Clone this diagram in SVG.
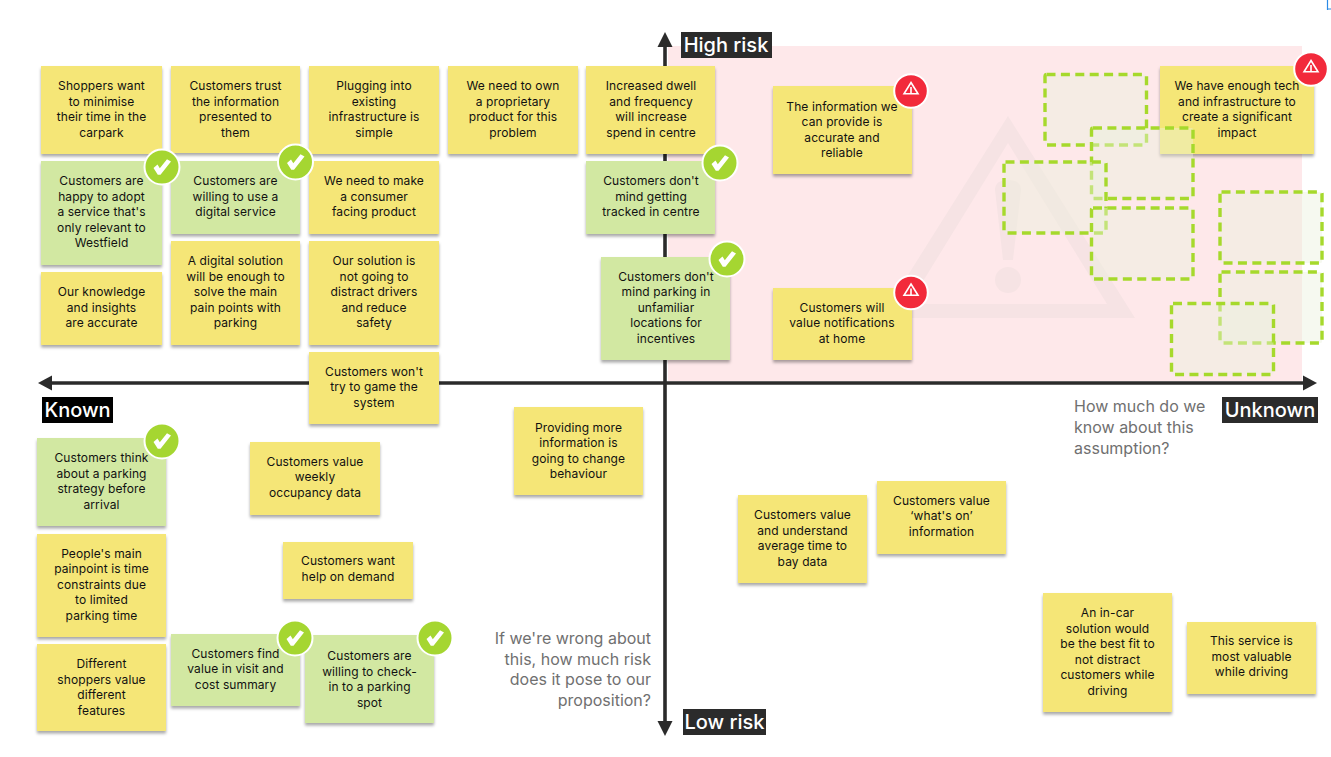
<svg xmlns="http://www.w3.org/2000/svg" xmlns:xlink="http://www.w3.org/1999/xlink" width="1331" height="757" viewBox="0 0 1331 757">
<style>
.y{fill:#f5e677;filter:url(#s)}
.g{fill:#d2e8a2;filter:url(#s)}
.t{font-family:Inter,"Liberation Sans",sans-serif;font-size:12px;fill:#111;text-anchor:middle;letter-spacing:.1px}
.l{font-family:Inter,"Liberation Sans",sans-serif;font-size:20px;fill:#fff;text-anchor:middle;font-weight:500}
.q{font-family:Inter,"Liberation Sans",sans-serif;font-size:16px;fill:#707070}
.d{fill:#eaf0dd;fill-opacity:.43;stroke:#a6d92c;stroke-width:3.4;stroke-dasharray:9 5.4}
.ax{stroke:#2b2b2b;stroke-width:3.6;fill:none}
</style>
<defs>
<filter id="s" x="-10%" y="-10%" width="120%" height="125%"><feDropShadow dx="0" dy="2.500" stdDeviation="1.500" flood-color="#000" flood-opacity=".34"/></filter>
<g id="chk"><circle r="17.500" fill="#a5d631" stroke="#fff" stroke-width="2"/><path d="M-8.500 1 L-4.500 -2.500 L-2.200 1.200 L5 -7.800 L9 -5.500 L-1.500 7.800 L-4.200 7.800Z" fill="#fff"/></g>
<g id="warn"><circle r="16.800" fill="#f22a3b" stroke="#fff" stroke-width="2"/><path d="M0 -8.500 L7 2.800 H-7Z M0 -4 V2.800" fill="none" stroke="#fff" stroke-width="1.600" stroke-linejoin="miter"/></g>
</defs>
<rect width="1331" height="757" fill="#fff"/>
<path id="corner-mark" d="M1327.500 0 V10 M1328 9 H1331" fill="none" stroke="#2b8ae6" stroke-width="1.200"/>
<rect id="risk-zone" x="668" y="46" width="634" height="335" fill="#fee8ea"/>
<g id="bg-warning" fill="#f6e3e4">
<path fill-rule="evenodd" d="M1008 116 L1135 318 H881Z M1008 143 L909 304 H1107Z"/>
<path d="M995 190 Q995 180 1008 180 Q1021 180 1021 190 L1013 260 H1003Z"/>
<circle cx="1008" cy="280" r="13"/>
</g>
<g id="connectors">
<path class="ax" d="M665 725 V43"/>
<path d="M665 32 L672.500 47 H657.500Z" fill="#2b2b2b"/>
<path d="M665 736 L672.500 721 H657.500Z" fill="#2b2b2b"/>
<path class="ax" d="M48 383 H1307"/>
<path d="M38 383 L52 375.500 V390.500Z" fill="#2b2b2b"/>
<path d="M1317 383 L1303 375.500 V390.500Z" fill="#2b2b2b"/>
</g>
<g id="n-high"><rect x="681" y="32" width="91" height="26" fill="#2b2b2b"/><text class="l" x="726" y="52">High risk</text></g>
<g id="n-low"><rect x="683" y="709" width="83" height="26" fill="#2b2b2b"/><text class="l" x="724.500" y="729">Low risk</text></g>
<g id="n-known"><rect x="42" y="397" width="71" height="26" fill="#000"/><text class="l" x="77.500" y="417">Known</text></g>
<g id="n-unknown"><rect x="1222" y="397" width="96" height="26" fill="#2b2b2b"/><text class="l" x="1270" y="417">Unknown</text></g>
<g id="q-known"><text class="q" x="1074"><tspan x="1074" y="412">How much do we</tspan><tspan x="1074" y="433">know about this</tspan><tspan x="1074" y="454">assumption?</tspan></text></g>
<g id="q-risk"><text class="q" text-anchor="end"><tspan x="651" y="644">If we're wrong about</tspan><tspan x="651" y="664.500">this, how much risk</tspan><tspan x="651" y="685">does it pose to our</tspan><tspan x="651" y="705.500">proposition?</tspan></text></g>

<g id="n1"><rect class="y" x="41" y="66" width="121" height="88"/><text class="t"><tspan x="101.500" y="90">Shoppers want</tspan><tspan x="101.500" dy="15.500">to minimise</tspan><tspan x="101.500" dy="15.500">their time in the</tspan><tspan x="101.500" dy="15.500">carpark</tspan></text></g>
<g id="n2"><rect class="y" x="171" y="66" width="129" height="87"/><text class="t"><tspan x="235.500" y="90">Customers trust</tspan><tspan x="235.500" dy="15.500">the information</tspan><tspan x="235.500" dy="15.500">presented to</tspan><tspan x="235.500" dy="15.500">them</tspan></text></g>
<g id="n3"><rect class="y" x="309" y="66" width="130" height="88"/><text class="t"><tspan x="374" y="90">Plugging into</tspan><tspan x="374" dy="15.500">existing</tspan><tspan x="374" dy="15.500">infrastructure is</tspan><tspan x="374" dy="15.500">simple</tspan></text></g>
<g id="n4"><rect class="y" x="448" y="66" width="130" height="88"/><text class="t"><tspan x="513" y="90">We need to own</tspan><tspan x="513" dy="15.500">a proprietary</tspan><tspan x="513" dy="15.500">product for this</tspan><tspan x="513" dy="15.500">problem</tspan></text></g>
<g id="n5"><rect class="y" x="586" y="66" width="129" height="88"/><text class="t"><tspan x="651" y="90">Increased dwell</tspan><tspan x="651" dy="15.500">and frequency</tspan><tspan x="651" dy="15.500">will increase</tspan><tspan x="651" dy="15.500">spend in centre</tspan></text></g>
<g id="n6"><rect class="g" x="41" y="161" width="121" height="104"/><text class="t"><tspan x="101.500" y="185.250">Customers are</tspan><tspan x="101.500" dy="15.500">happy to adopt</tspan><tspan x="101.500" dy="15.500">a service that's</tspan><tspan x="101.500" dy="15.500">only relevant to</tspan><tspan x="101.500" dy="15.500">Westfield</tspan></text></g>
<g id="n7"><rect class="g" x="171" y="161" width="129" height="73"/><text class="t"><tspan x="235.500" y="185.250">Customers are</tspan><tspan x="235.500" dy="15.500">willing to use a</tspan><tspan x="235.500" dy="15.500">digital service</tspan></text></g>
<g id="n8"><rect class="y" x="309" y="161" width="130" height="73"/><text class="t"><tspan x="374" y="185.250">We need to make</tspan><tspan x="374" dy="15.500">a consumer</tspan><tspan x="374" dy="15.500">facing product</tspan></text></g>
<g id="n9"><rect class="g" x="586" y="161" width="129" height="73"/><text class="t"><tspan x="651" y="185.250">Customers don't</tspan><tspan x="651" dy="15.500">mind getting</tspan><tspan x="651" dy="15.500">tracked in centre</tspan></text></g>
<g id="n10"><rect class="y" x="41" y="272" width="121" height="73"/><text class="t"><tspan x="101.500" y="296.250">Our knowledge</tspan><tspan x="101.500" dy="15.500">and insights</tspan><tspan x="101.500" dy="15.500">are accurate</tspan></text></g>
<g id="n11"><rect class="y" x="171" y="241" width="129" height="104"/><text class="t"><tspan x="235.500" y="265.250">A digital solution</tspan><tspan x="235.500" dy="15.500">will be enough to</tspan><tspan x="235.500" dy="15.500">solve the main</tspan><tspan x="235.500" dy="15.500">pain points with</tspan><tspan x="235.500" dy="15.500">parking</tspan></text></g>
<g id="n12"><rect class="y" x="309" y="241" width="130" height="104"/><text class="t"><tspan x="374" y="265.250">Our solution is</tspan><tspan x="374" dy="15.500">not going to</tspan><tspan x="374" dy="15.500">distract drivers</tspan><tspan x="374" dy="15.500">and reduce</tspan><tspan x="374" dy="15.500">safety</tspan></text></g>
<g id="n13"><rect class="y" x="309" y="352" width="130" height="72"/><text class="t"><tspan x="374" y="375.750">Customers won't</tspan><tspan x="374" dy="15.500">try to game the</tspan><tspan x="374" dy="15.500">system</tspan></text></g>
<g id="n14"><rect class="g" x="601" y="257" width="129" height="103"/><text class="t"><tspan x="666" y="280.750">Customers don't</tspan><tspan x="666" dy="15.500">mind parking in</tspan><tspan x="666" dy="15.500">unfamiliar</tspan><tspan x="666" dy="15.500">locations for</tspan><tspan x="666" dy="15.500">incentives</tspan></text></g>
<g id="n15"><rect class="y" x="773" y="86" width="139" height="88"/><text class="t"><tspan x="842" y="110.750">The information we</tspan><tspan x="842" dy="15.500">can provide is</tspan><tspan x="842" dy="15.500">accurate and</tspan><tspan x="842" dy="15.500">reliable</tspan></text></g>
<g id="n16"><rect class="y" x="773" y="288" width="139" height="72"/><text class="t"><tspan x="842" y="311.750">Customers will</tspan><tspan x="842" dy="15.500">value notifications</tspan><tspan x="842" dy="15.500">at home</tspan></text></g>
<g id="n17"><rect class="y" x="1160" y="66" width="154" height="88"/><text class="t"><tspan x="1237" y="90">We have enough tech</tspan><tspan x="1237" dy="15.500">and infrastructure to</tspan><tspan x="1237" dy="15.500">create a significant</tspan><tspan x="1237" dy="15.500">impact</tspan></text></g>
<g id="n18"><rect class="g" x="37" y="438" width="129" height="88"/><text class="t"><tspan x="101.500" y="462">Customers think</tspan><tspan x="101.500" dy="15.500">about a parking</tspan><tspan x="101.500" dy="15.500">strategy before</tspan><tspan x="101.500" dy="15.500">arrival</tspan></text></g>
<g id="n19"><rect class="y" x="37" y="534" width="129" height="103"/><text class="t"><tspan x="101.500" y="557.750">People's main</tspan><tspan x="101.500" dy="15.500">painpoint is time</tspan><tspan x="101.500" dy="15.500">constraints due</tspan><tspan x="101.500" dy="15.500">to limited</tspan><tspan x="101.500" dy="15.500">parking time</tspan></text></g>
<g id="n20"><rect class="y" x="37" y="644" width="129" height="87"/><text class="t"><tspan x="101.500" y="668">Different</tspan><tspan x="101.500" dy="15.500">shoppers value</tspan><tspan x="101.500" dy="15.500">different</tspan><tspan x="101.500" dy="15.500">features</tspan></text></g>
<g id="n21"><rect class="y" x="250" y="442" width="130" height="73"/><text class="t"><tspan x="315" y="465.750">Customers value</tspan><tspan x="315" dy="15.500">weekly</tspan><tspan x="315" dy="15.500">occupancy data</tspan></text></g>
<g id="n22"><rect class="y" x="283" y="542" width="130" height="57"/><text class="t"><tspan x="348" y="565">Customers want</tspan><tspan x="348" dy="15.500">help on demand</tspan></text></g>
<g id="n23"><rect class="y" x="514" y="407" width="129" height="88"/><text class="t"><tspan x="578.500" y="431.750">Providing more</tspan><tspan x="578.500" dy="15.500">information is</tspan><tspan x="578.500" dy="15.500">going to change</tspan><tspan x="578.500" dy="15.500">behaviour</tspan></text></g>
<g id="n24"><rect class="g" x="171" y="634" width="129" height="72"/><text class="t"><tspan x="235.500" y="657.750">Customers find</tspan><tspan x="235.500" dy="15.500">value in visit and</tspan><tspan x="235.500" dy="15.500">cost summary</tspan></text></g>
<g id="n25"><rect class="g" x="305" y="635" width="129" height="88"/><text class="t"><tspan x="369.500" y="660">Customers are</tspan><tspan x="369.500" dy="15.500">willing to check-</tspan><tspan x="369.500" dy="15.500">in to a parking</tspan><tspan x="369.500" dy="15.500">spot</tspan></text></g>
<g id="n26"><rect class="y" x="738" y="495" width="129" height="88"/><text class="t"><tspan x="802.500" y="519">Customers value</tspan><tspan x="802.500" dy="15.500">and understand</tspan><tspan x="802.500" dy="15.500">average time to</tspan><tspan x="802.500" dy="15.500">bay data</tspan></text></g>
<g id="n27"><rect class="y" x="877" y="481" width="129" height="73"/><text class="t"><tspan x="941.500" y="504.750">Customers value</tspan><tspan x="941.500" dy="15.500">‘what's on’</tspan><tspan x="941.500" dy="15.500">information</tspan></text></g>
<g id="n28"><rect class="y" x="1043" y="593" width="129" height="119"/><text class="t"><tspan x="1107.500" y="617">An in-car</tspan><tspan x="1107.500" dy="15.500">solution would</tspan><tspan x="1107.500" dy="15.500">be the best fit to</tspan><tspan x="1107.500" dy="15.500">not distract</tspan><tspan x="1107.500" dy="15.500">customers while</tspan><tspan x="1107.500" dy="15.500">driving</tspan></text></g>
<g id="n29"><rect class="y" x="1187" y="622" width="129" height="72"/><text class="t"><tspan x="1251.500" y="645.250">This service is</tspan><tspan x="1251.500" dy="15.500">most valuable</tspan><tspan x="1251.500" dy="15.500">while driving</tspan></text></g>

<g id="placeholders">
<rect class="d" x="1045" y="74.500" width="101.500" height="70.500" rx="1.500"/>
<rect class="d" x="1091.500" y="128" width="101.500" height="70.500" rx="1.500"/>
<rect class="d" x="1004" y="162" width="102" height="71" rx="1.500"/>
<rect class="d" x="1091.500" y="208" width="101.500" height="71" rx="1.500"/>
<rect class="d" x="1220" y="192" width="102" height="71" rx="1.500"/>
<rect class="d" x="1220" y="272" width="102" height="71" rx="1.500"/>
<rect class="d" x="1171.500" y="303.500" width="102" height="71" rx="1.500"/>
</g>
<g id="badges">
<use xlink:href="#chk" href="#chk" x="162" y="167"/>
<use xlink:href="#chk" href="#chk" x="295.500" y="162"/>
<use xlink:href="#chk" href="#chk" x="720" y="163"/>
<use xlink:href="#chk" href="#chk" x="727" y="259"/>
<use xlink:href="#chk" href="#chk" x="162" y="441"/>
<use xlink:href="#chk" href="#chk" x="295" y="638"/>
<use xlink:href="#chk" href="#chk" x="435" y="638"/>
<use xlink:href="#warn" href="#warn" x="911" y="91"/>
<use xlink:href="#warn" href="#warn" x="911" y="292.500"/>
<use xlink:href="#warn" href="#warn" x="1311" y="69"/>
</g>
</svg>
